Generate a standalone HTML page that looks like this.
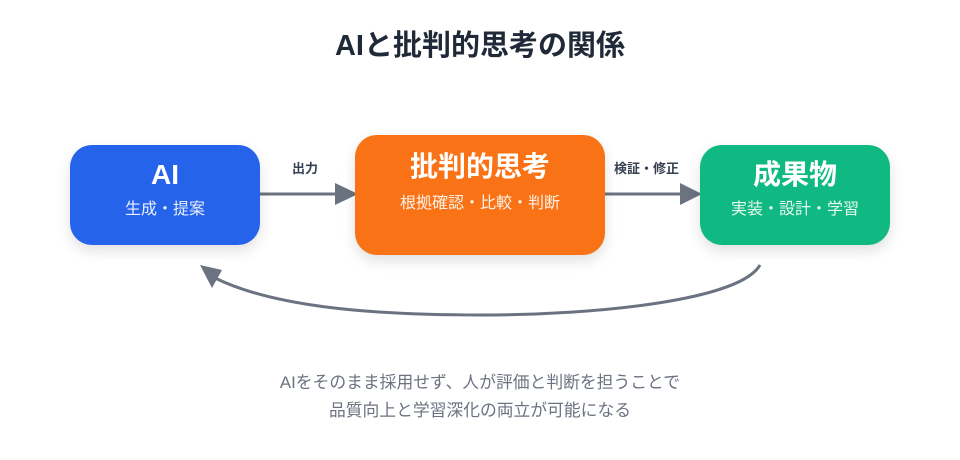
<!DOCTYPE html>
<html><head><meta charset="utf-8"><style>
body{margin:0;width:960px;height:460px;background:#fff;position:relative;overflow:hidden;font-family:"Liberation Sans","Noto Sans CJK JP",sans-serif}
.t{position:absolute;left:0;width:960px;text-align:center}
.box{position:absolute;border-radius:22px;color:#fff;text-align:center;box-shadow:0 6px 14px rgba(0,0,0,0.12)}
.box .h{font-weight:bold;font-size:28px;line-height:32px}
.box .s{font-size:16px;line-height:20px;opacity:0.9;margin-top:9px}
.lbl{position:absolute;font-size:13px;font-weight:bold;color:#374151}
</style></head><body>
<div class="t" style="top:27px;font-size:29px;font-weight:bold;color:#1f2937;line-height:38px">AIと批判的思考の関係</div>
<svg width="960" height="460" style="position:absolute;left:0;top:0">
<line x1="260" y1="194" x2="338" y2="194" stroke="#6b7280" stroke-width="3"/>
<polygon points="335,183 358,194 335,205" fill="#6b7280"/>
<line x1="605" y1="194" x2="683" y2="194" stroke="#6b7280" stroke-width="3"/>
<polygon points="680,183 702,194 680,205" fill="#6b7280"/>
<path d="M760,265 C740,300 600,315 480,315 C360,315 270,305 215,278" fill="none" stroke="#6b7280" stroke-width="3"/>
<polygon points="200,265 222,270 212,288" fill="#6b7280"/>
</svg>
<div class="box" style="left:70px;top:145px;width:190px;height:100px;background:#2563eb"><div class="h" style="margin-top:14px">AI</div><div class="s">生成・提案</div></div>
<div class="box" style="left:355px;top:135px;width:250px;height:120px;background:#f97316"><div class="h" style="margin-top:16px">批判的思考</div><div class="s" style="margin-top:11px">根拠確認・比較・判断</div></div>
<div class="box" style="left:700px;top:145px;width:190px;height:100px;background:#10b981"><div class="h" style="margin-top:14px">成果物</div><div class="s">実装・設計・学習</div></div>
<div class="lbl" style="left:292px;top:158px">出力</div>
<div class="lbl" style="left:614px;top:158px">検証・修正</div>
<div class="t" style="top:369px;font-size:16.8px;color:#6b7280;line-height:28px">AIをそのまま採用せず、人が評価と判断を担うことで<br>品質向上と学習深化の両立が可能になる</div>
</body></html>
